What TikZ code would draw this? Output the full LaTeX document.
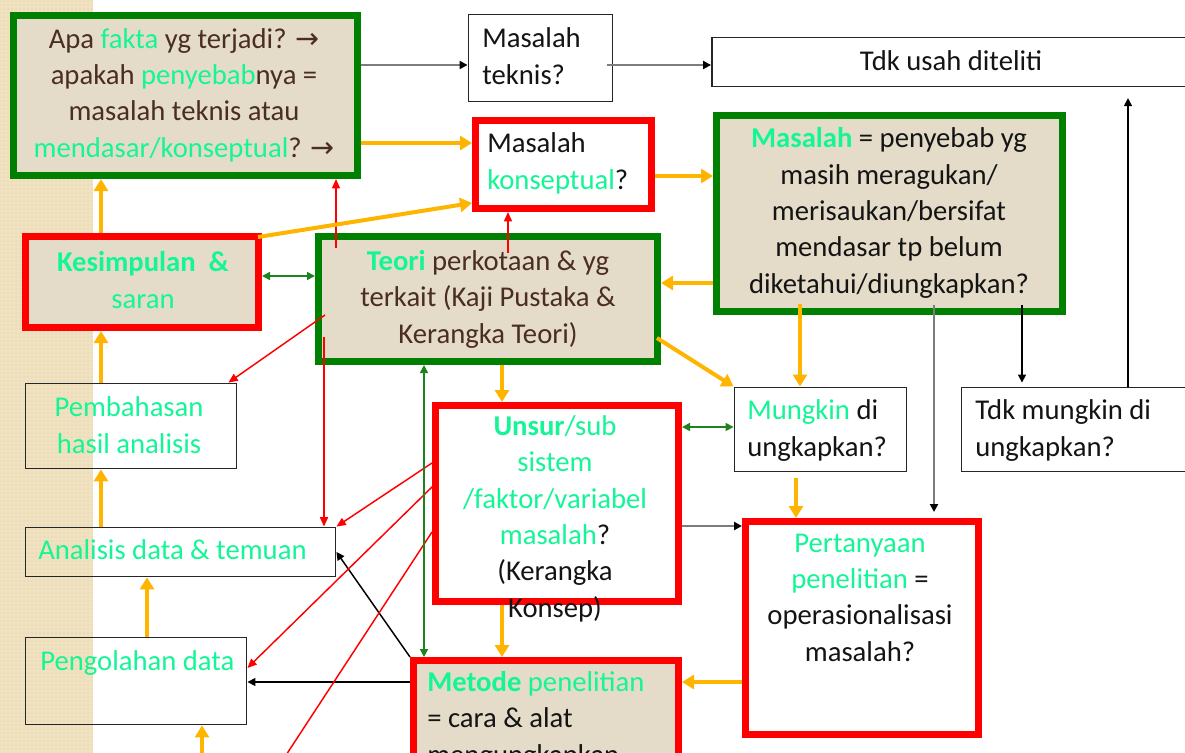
\documentclass[tikz,border=0pt]{standalone}
\usepackage{fontspec}
\setmainfont{Carlito}
\newfontfamily\arrfont{DejaVu Sans}
\usetikzlibrary{arrows.meta,calc,patterns}
\definecolor{beige}{RGB}{228,220,200}
\definecolor{bgreen}{RGB}{0,128,0}
\definecolor{cgreen}{RGB}{20,245,150}
\definecolor{tbrown}{RGB}{75,45,35}
\definecolor{oline}{RGB}{255,180,0}
\definecolor{lgreen}{RGB}{30,130,30}
\definecolor{stripc}{RGB}{240,226,192}
\definecolor{stripdot}{RGB}{222,203,160}
\definecolor{lgray}{RGB}{125,125,125}
\definecolor{tblack}{RGB}{20,20,20}
\newcommand{\grn}[1]{\textcolor{cgreen}{#1}}
\newcommand{\myarr}{{\arrfont →}}
\begin{document}
\begin{tikzpicture}[x=0.75pt, y=-0.75pt,
  font=\fontsize{21.5}{27.2}\selectfont, text=tblack,
  gbox/.style={draw=bgreen, line width=5.25pt, fill=beige, inner sep=0pt, rectangle},
  rbox/.style={draw=red, line width=5.25pt, fill=white, inner sep=0pt, rectangle},
  rbbox/.style={draw=red, line width=5.25pt, fill=beige, inner sep=0pt, rectangle},
  kbox/.style={draw=black!85, line width=1.4pt, inner sep=0pt, rectangle},
  txt/.style={inner sep=0pt, align=center, anchor=base},
  ltxt/.style={inner sep=0pt, align=left, anchor=base west},
  oarr/.style={draw=oline, line width=3pt, -{Triangle[length=9pt,width=10.5pt]}},
  garr/.style={draw=lgreen, line width=1.2pt, {Triangle[length=6pt,width=6pt]}-{Triangle[length=6pt,width=6pt]}},
  rarr/.style={draw=red, line width=1.1pt, -{Triangle[length=7pt,width=6pt]}},
  barr/.style={draw=black, line width=1.1pt, -{Triangle[length=6pt,width=6pt]}},
  grarr/.style={draw=lgray, line width=1.5pt, -{Triangle[length=6pt,width=6pt,color=black]}}
]
\useasboundingbox (0,0) rectangle (1185,753);
\clip (0,0) rectangle (1185,753);
% left textured strip
\fill[stripc] (0,0) rectangle (93,753);
\fill[pattern=dots, pattern color=stripdot] (0,0) rectangle (93,753);

% boxes
\node[gbox, minimum width=258pt, minimum height=120pt] (apa) at (185.5,95.5) {};
\node[kbox, fill=white, minimum width=108pt, minimum height=65.25pt] (teknis) at (540.5,58) {};
\node[kbox, fill=white, minimum width=366pt, minimum height=36.75pt] (usah) at (956,62) {};
\node[rbox, minimum width=132pt, minimum height=66pt] (konsep) at (563.5,164.5) {};
\node[gbox, minimum width=259.5pt, minimum height=147pt] (penyeb) at (889.5,213.5) {};
\node[rbbox, minimum width=174.75pt, minimum height=68.25pt] (kesimp) at (142,282) {};
\node[gbox, minimum width=254.25pt, minimum height=93.75pt] (teori) at (488,299) {};
\node[kbox, minimum width=158.25pt, minimum height=63.75pt] (pemb) at (131,426) {};
\node[kbox, minimum width=232.5pt, minimum height=36.75pt] (anal) at (180.5,552) {};
\node[kbox, minimum width=165.75pt, minimum height=65.25pt] (peng) at (136,681) {};
\node[kbox, fill=white, minimum width=129pt, minimum height=63pt] (mungkin) at (820.5,429.5) {};
\node[kbox, fill=white, minimum width=178.5pt, minimum height=63pt] (tdkm) at (1080.5,429.5) {};
\node[rbox, minimum width=182.25pt, minimum height=147pt] (unsur) at (557,503.5) {};
\node[rbox, minimum width=174.75pt, minimum height=159.75pt] (pert) at (862,628) {};
\node[rbbox, minimum width=198.75pt, minimum height=104.25pt] (metode) at (546,730) {};

\coordinate (botA) at (202,775);
\coordinate (botB) at (273,775);

% grey / black connectors
\draw[grarr] (0,65 -| apa.east) -- (0,65 -| teknis.west);
\draw[grarr] ($(0,65 -| teknis.east)+(-6,0)$) -- (0,65 -| usah.west);
\draw[barr, shorten >=3pt] ($(penyeb.south)+(132.5,-10)$) -- (1022,0 |- tdkm.north);
\draw[grarr, shorten >=4.5pt] ($(penyeb.south)+(44.5,-10)$) -- (934,0 |- pert.north);
\draw[barr, shorten >=8pt] (1128,0 |- tdkm.north) -- (1128,0 |- usah.south);
\draw[grarr] (0,526 -| unsur.east) -- (0,526 -| pert.west);
\draw[barr] (metode.north west) -- (anal.east);
\draw[barr] (0,682 -| metode.west) -- (0,682 -| peng.east);

% red connectors
\draw[rarr] ($(teori.north west)+(21,15)$) -- (336,0 |- apa.south);
\draw[rarr] ($(teori.north)+(20,20)$) -- (508,0 |- konsep.south);
\draw[rarr] ($(teori.west)+(10,16)$) -- ($(pemb.north east)+(-9,0)$);
\draw[rarr] ($(teori.west)+(9,38)$) -- (324,0 |- anal.north);
\draw[rarr] (0,463 -| unsur.west) -- (anal.north east);
\draw[rarr] (0,487 -| unsur.west) -- (0,668 -| peng.east);
\draw[draw=red, line width=1.1pt] (0,532 -| unsur.west) -- (botB);

% green double arrows
\draw[garr] (0,276 -| kesimp.east) -- (0,276 -| teori.west);
\draw[garr] (0,427 -| unsur.east) -- (0,427 -| mungkin.west);
\draw[garr] (424,0 |- teori.south) -- (424,0 |- metode.north);

% orange connectors
\draw[oarr] (101,0 |- kesimp.north) -- (101,0 |- apa.south);
\draw[oarr] (0,143 -| apa.east) -- (0,143 -| konsep.west);
\draw[oarr] ($(kesimp.north east)+(-4,4)$) -- (0,203 -| konsep.west);
\draw[oarr] (0,176 -| konsep.east) -- (0,176 -| penyeb.west);
\draw[oarr] (0,283 -| penyeb.west) -- (0,283 -| teori.east);
\draw[oarr] ($(teori.east)+(-4,39)$) -- (mungkin.north west);
\draw[oarr] ($(penyeb.south)+(-89.5,-11)$) -- (800,0 |- mungkin.north);
\draw[oarr] (502,0 |- teori.south) -- (502,0 |- unsur.north);
\draw[oarr, shorten <=4pt] (796,0 |- mungkin.south) -- (796,0 |- pert.north);
\draw[oarr] (502,0 |- unsur.south) -- (502,0 |- metode.north);
\draw[oarr] (0,682 -| pert.west) -- (0,682 -| metode.east);
\draw[oarr] (101,0 |- pemb.north) -- (101,0 |- kesimp.south);
\draw[oarr] (101,0 |- anal.north) -- (101,0 |- pemb.south);
\draw[oarr] (147,0 |- peng.north) -- (147,0 |- anal.south);
\draw[oarr] (botA) -- (202,0 |- peng.south);

% texts (anchor = baseline of the last line)
\node[txt, text=tbrown] (tapa) at (184,157) {Apa \grn{fakta} yg terjadi? \myarr\\apakah \grn{penyebab}nya =\\masalah teknis atau\\\grn{mendasar/konseptual}? \myarr};
\node[ltxt] (tteknis) at (482,84) {Masalah\\teknis?};
\node[txt] (tusah) at (951,70) {Tdk usah diteliti};
\node[ltxt] (tkonsep) at (487,189) {Masalah\\\grn{konseptual}?};
\node[txt] (tpenyeb) at (889,293) {\textbf{\grn{Masalah}} = penyebab yg\\masih meragukan/\\merisaukan/bersifat\\mendasar tp belum\\diketahui/diungkapkan?};
\node[txt, text=cgreen] (tkesimp) at (143,308) {\textbf{Kesimpulan \ \&}\\saran};
\node[txt, text=tbrown] (tteori) at (488,343) {\textbf{\grn{Teori}} perkotaan \& yg\\terkait (Kaji Pustaka \&\\Kerangka Teori)};
\node[txt, text=cgreen] (tpemb) at (129,453) {Pembahasan\\hasil analisis};
\node[ltxt, text=cgreen] (tanal) at (38,559) {Analisis data \& temuan};
\node[ltxt, text=cgreen] (tpeng) at (40,670) {Pengolahan data};
\node[ltxt] (tmungkin) at (747,456) {\grn{Mungkin} di\\ungkapkan?};
\node[ltxt] (ttdkm) at (975,456) {Tdk mungkin di\\ungkapkan?};
\node[txt] (tunsur) at (555,617) {\grn{\textbf{Unsur}/sub}\\\grn{sistem}\\\grn{/faktor/variabel}\\\grn{masalah}?\\(Kerangka\\Konsep)};
\node[txt] (tpert) at (860,661) {\grn{Pertanyaan}\\\grn{penelitian} =\\operasionalisasi\\masalah?};
\node[ltxt] (tmetode) at (427,764) {\grn{\textbf{Metode} penelitian}\\= cara \& alat\\mengungkapkan};
\end{tikzpicture}
\end{document}
